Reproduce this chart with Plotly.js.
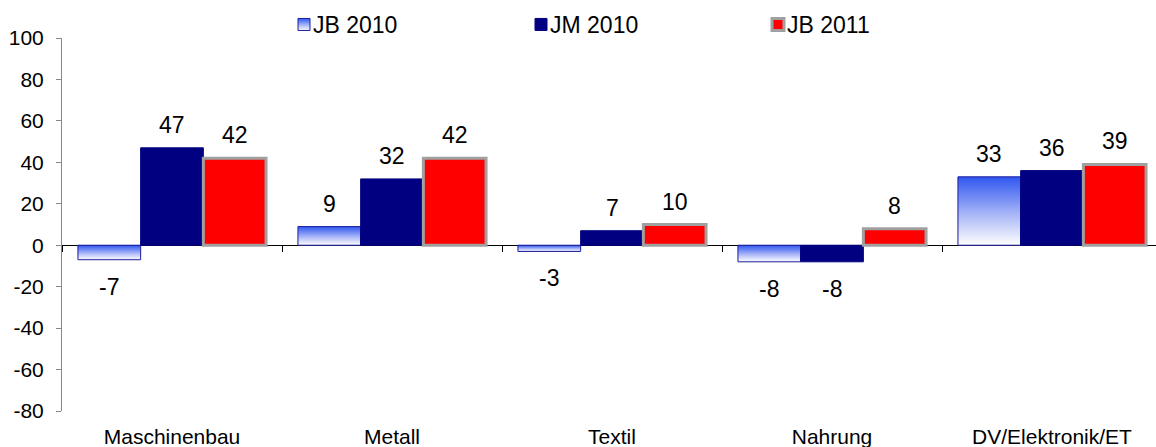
<!DOCTYPE html>
<html>
<head>
<meta charset="utf-8">
<script src="https://cdn.plot.ly/plotly-3.0.1.min.js"></script>
<style>
  html, body { margin: 0; padding: 0; background: #fff; }
  #chart { width: 1156px; height: 447px; }
</style>
</head>
<body>
<div id="chart"></div>
<script>
const categories = ["Maschinenbau", "Metall", "Textil", "Nahrung", "DV/Elektronik/ET"];
const seriesNames = ["JB 2010", "JM 2010", "JB 2011"];
const jb2010 = [-7, 9, -3, -8, 33];
const jm2010 = [47, 32, 7, -8, 36];
const jb2011 = [42, 42, 10, 8, 39];
const yTicks = [-80, -60, -40, -20, 0, 20, 40, 60, 80, 100];

const FONT = "Liberation Sans, Arial, sans-serif";
const seriesValues = [jb2010, jm2010, jb2011];
const fills = ["#3d5ff2", "#000080", "#ff0000"];
const lines = [{color: "#1c1c9c", width: 1}, {color: "#000080", width: 1}, {color: "#a0a0a0", width: 3}];

const BARGAP = 0.145;
const barW = (1 - BARGAP) / 3;

const traces = seriesValues.map((vals, j) => ({
  type: "bar",
  name: seriesNames[j],
  x: categories,
  y: vals,
  marker: {color: fills[j], line: lines[j]},
  hoverinfo: "skip"
}));

// helper trace for the tick axis at y = 0
traces.push({
  type: "scatter",
  mode: "markers",
  x: categories,
  y: categories.map(() => 0),
  xaxis: "x2",
  yaxis: "y",
  marker: {opacity: 0},
  showlegend: false,
  hoverinfo: "skip"
});

const annotations = [];
seriesValues.forEach((vals, j) => {
  vals.forEach((v, i) => {
    annotations.push({
      xref: "x", yref: "y",
      x: i + (j - 1) * barW,
      y: v,
      yshift: v >= 0 ? 23 : -27,
      text: String(v),
      showarrow: false,
      font: {family: FONT, size: 23, color: "#000"}
    });
  });
});

const xr = [-0.5, 4.4727];
const layout = {
  width: 1156, height: 447,
  margin: {l: 62, r: 0, t: 38, b: 36, pad: 0, autoexpand: false},
  paper_bgcolor: "#fff", plot_bgcolor: "#fff",
  font: {family: FONT, size: 21, color: "#000"},
  barmode: "group",
  bargap: BARGAP,
  bargroupgap: 0,
  showlegend: true,
  legend: {
    orientation: "h",
    xref: "container", yref: "container",
    x: 273 / 1156, y: 1 - 3 / 447, yanchor: "top", xanchor: "left",
    font: {family: FONT, size: 23, color: "#000"},
    entrywidth: 192, entrywidthmode: "pixels",
    traceorder: "normal",
    bgcolor: "rgba(0,0,0,0)"
  },
  xaxis: {
    type: "category",
    range: xr,
    showline: false, showgrid: false, zeroline: false,
    ticks: "",
    tickfont: {family: FONT, size: 21, color: "#000"},
    ticklabelstandoff: 11,
    fixedrange: true
  },
  xaxis2: {
    type: "category",
    overlaying: "x",
    anchor: "free",
    position: 80 / 180,
    range: xr,
    showline: false, showgrid: false, zeroline: false,
    showticklabels: false,
    ticks: "outside", tickson: "boundaries", ticklen: 6, tickcolor: "#000", tickwidth: 1,
    fixedrange: true
  },
  yaxis: {
    range: [-80, 100],
    tickvals: yTicks,
    ticktext: yTicks.map(String),
    showline: true, linecolor: "#888", linewidth: 1,
    ticks: "outside", ticklen: 5, tickcolor: "#888", tickwidth: 1,
    showgrid: false,
    zeroline: true, zerolinecolor: "#000", zerolinewidth: 1,
    tickfont: {family: FONT, size: 21, color: "#000"},
    ticklabelstandoff: 8,
    fixedrange: true
  },
  annotations: annotations
};

Plotly.newPlot("chart", traces, layout, {displayModeBar: false, staticPlot: true}).then(gd => {
  const svg = gd.querySelector(".main-svg");
  let defs = svg.querySelector("defs");
  const ns = "http://www.w3.org/2000/svg";
  const grad = document.createElementNS(ns, "linearGradient");
  grad.setAttribute("id", "jbGrad");
  grad.setAttribute("x1", "0"); grad.setAttribute("y1", "0");
  grad.setAttribute("x2", "0"); grad.setAttribute("y2", "1");
  [["0", "#2f57f0"], ["0.55", "#a9b6f7"], ["1", "#ffffff"]].forEach(([o, c]) => {
    const s = document.createElementNS(ns, "stop");
    s.setAttribute("offset", o); s.setAttribute("stop-color", c);
    grad.appendChild(s);
  });
  defs.appendChild(grad);
  const barTraces = gd.querySelectorAll(".barlayer .trace");
  if (barTraces[0]) barTraces[0].querySelectorAll("path").forEach(p => { p.style.fill = "url(#jbGrad)"; });
  const legTraces = gd.querySelectorAll(".legend .traces");
  if (legTraces[0]) legTraces[0].querySelectorAll(".legendpoints path").forEach(p => { p.style.fill = "url(#jbGrad)"; });
  // move legend swatches closer to their text
  gd.querySelectorAll(".legend .legendpoints").forEach(g => {
    const t = g.getAttribute("transform") || "";
    g.setAttribute("transform", "translate(11,0) " + t);
  });
});
</script>
</body>
</html>
